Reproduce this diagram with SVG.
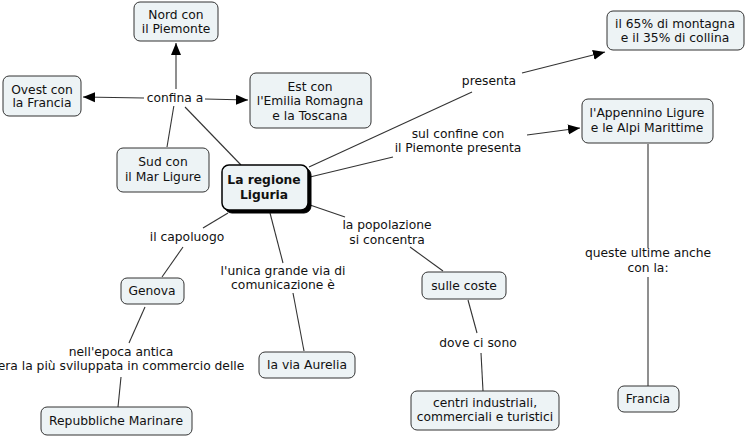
<svg xmlns="http://www.w3.org/2000/svg" width="745" height="438" viewBox="0 0 745 438">
<style>
.n rect{fill:#EDF3F5;stroke:#333;stroke-width:1}
text{font-family:"DejaVu Sans",Verdana,sans-serif;font-size:12.3px;fill:#111;text-anchor:middle}
.b{font-weight:bold}
#connectors line{stroke:#333;stroke-width:1.1;fill:none}
.lab text{fill:#111}
</style>
<defs>
<marker id="ah" markerUnits="userSpaceOnUse" markerWidth="12" markerHeight="12" viewBox="0 0 12 12" refX="12" refY="6" orient="auto">
<path d="M0,1 L12,6 L0,11 Z" fill="#000"/>
</marker>
</defs>
<rect width="745" height="438" fill="#fff"/>
<g id="connectors">
<line x1="176" y1="89" x2="176" y2="43" marker-end="url(#ah)"/>
<line x1="144" y1="98" x2="83" y2="97" marker-end="url(#ah)"/>
<line x1="205" y1="99" x2="248" y2="100" marker-end="url(#ah)"/>
<line x1="167" y1="147" x2="174" y2="105"/>
<line x1="241" y1="165" x2="185" y2="107"/>
<line x1="309" y1="167" x2="472" y2="92"/>
<line x1="522" y1="73" x2="605" y2="52" marker-end="url(#ah)"/>
<line x1="310" y1="177" x2="393" y2="157"/>
<line x1="527" y1="135" x2="580" y2="128" marker-end="url(#ah)"/>
<line x1="648" y1="144" x2="648" y2="248"/>
<line x1="648" y1="277" x2="648" y2="386"/>
<line x1="228" y1="213" x2="203" y2="228"/>
<line x1="183" y1="247" x2="162" y2="277"/>
<line x1="145" y1="307" x2="129" y2="343"/>
<line x1="121" y1="377" x2="118" y2="407"/>
<line x1="270" y1="213" x2="283" y2="263"/>
<line x1="293" y1="293" x2="304" y2="351"/>
<line x1="310" y1="205" x2="345" y2="217"/>
<line x1="410" y1="247" x2="443" y2="271"/>
<line x1="468" y1="300" x2="477" y2="333"/>
<line x1="481" y1="353" x2="483" y2="391"/>
</g>
<g class="lab">
<rect x="145" y="89" width="60" height="17" fill="#fff"/>
<text x="175" y="102">confina a</text>
<text x="489" y="85">presenta</text>
<text x="458" y="138">sul confine con</text>
<text x="458" y="152">il Piemonte presenta</text>
<text x="187" y="241">il capoluogo</text>
<text x="283" y="275">l'unica grande via di</text>
<text x="283" y="289">comunicazione è</text>
<text x="121" y="356">nell'epoca antica</text>
<text x="121" y="370">era la più sviluppata in commercio delle</text>
<text x="387" y="229">la popolazione</text>
<text x="387" y="244">si concentra</text>
<text x="478" y="347">dove ci sono</text>
<text x="648" y="257">queste ultime anche</text>
<text x="648" y="272">con la:</text>
</g>
<g id="n-nord" class="n"><rect x="134" y="2" width="84" height="39" rx="6"/><text x="176" y="19">Nord con</text><text x="176" y="33">il Piemonte</text></g>
<g id="n-ovest" class="n"><rect x="3" y="76" width="78" height="40" rx="6"/><text x="42" y="94">Ovest con</text><text x="42" y="107">la Francia</text></g>
<g id="n-est" class="n"><rect x="250" y="73" width="121" height="55" rx="6"/><text x="310" y="91">Est con</text><text x="310" y="105">l'Emilia Romagna</text><text x="310" y="120">e la Toscana</text></g>
<g id="n-sud" class="n"><rect x="117" y="148" width="92" height="44" rx="6"/><text x="163" y="166">Sud con</text><text x="163" y="181">il Mar Ligure</text></g>
<g id="n-liguria" class="n"><rect x="225" y="168" width="86" height="45" rx="7" style="fill:#000;stroke:#000"/><rect x="222" y="165" width="86" height="45" rx="7" style="stroke:#000;stroke-width:1.5"/><text class="b" x="264" y="184">La regione</text><text class="b" x="264" y="199">Liguria</text></g>
<g id="n-65" class="n"><rect x="607" y="11" width="137" height="39" rx="6"/><text x="675" y="28">il 65% di montagna</text><text x="675" y="42">e il 35% di collina</text></g>
<g id="n-appennino" class="n"><rect x="582" y="99" width="131" height="44" rx="6"/><text x="647" y="117">l'Appennino Ligure</text><text x="647" y="132">e le Alpi Marittime</text></g>
<g id="n-genova" class="n"><rect x="121" y="278" width="63" height="26" rx="6"/><text x="152" y="295">Genova</text></g>
<g id="n-aurelia" class="n"><rect x="259" y="352" width="96" height="26" rx="6"/><text x="307" y="369">la via Aurelia</text></g>
<g id="n-repubbliche" class="n"><rect x="41" y="407" width="151" height="28" rx="6"/><text x="116" y="425">Repubbliche Marinare</text></g>
<g id="n-coste" class="n"><rect x="422" y="272" width="84" height="27" rx="6"/><text x="464" y="290">sulle coste</text></g>
<g id="n-centri" class="n"><rect x="411" y="391" width="148" height="39" rx="6"/><text x="485" y="407">centri industriali,</text><text x="485" y="421">commerciali e turistici</text></g>
<g id="n-francia" class="n"><rect x="618" y="386" width="61" height="26" rx="6"/><text x="648" y="403">Francia</text></g>
</svg>
